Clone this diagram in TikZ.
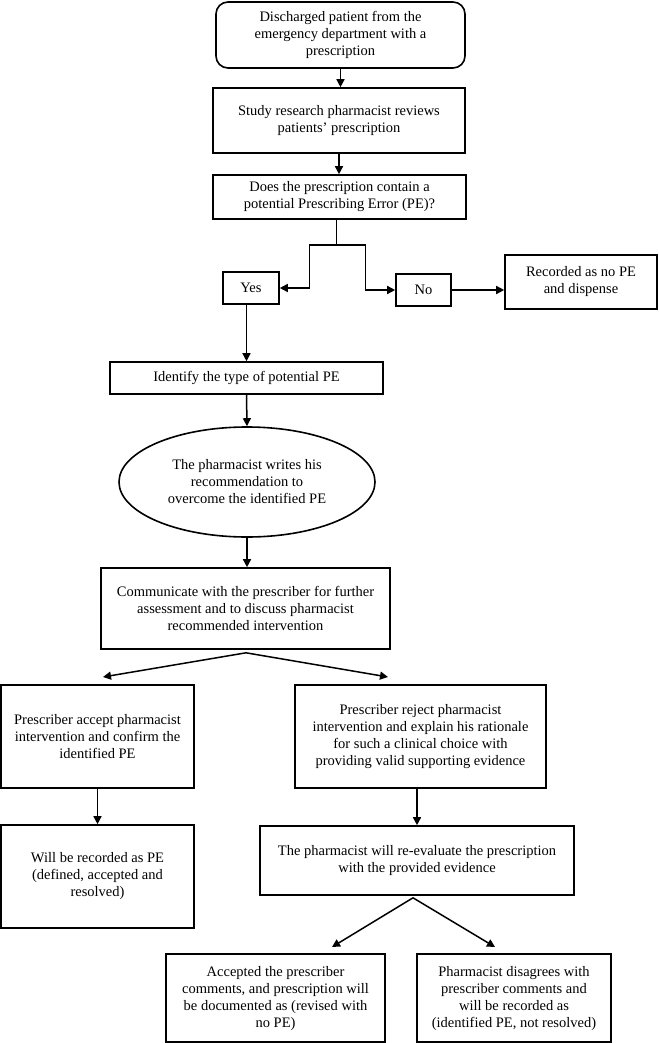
\documentclass[tikz,border=0pt]{standalone}
\usepackage{fontspec}
\setmainfont{Liberation Serif}
\usetikzlibrary{arrows.meta,shapes.geometric,calc}
\begin{document}
\begin{tikzpicture}[x=1pt,y=-1pt,
  box/.style={draw,line width=1.6pt,align=center,inner sep=2pt,
    font=\fontsize{14.5}{17}\selectfont},
  arr/.style={line width=1.5pt,-{Triangle[length=8pt,width=8pt]}},
  ln/.style={line width=1.5pt}]
\useasboundingbox (0,0) rectangle (658,1043);
% nodes
\node[box,rounded corners=12pt,minimum width=249pt,minimum height=66pt] (start) at (340.5,35)
  {Discharged patient from the\\emergency department with a\\prescription};
\node[box,minimum width=252pt,minimum height=65pt] (review) at (339,120.5)
  {Study research pharmacist reviews\\patients’ prescription};
\node[box,minimum width=253pt,minimum height=44pt] (quest) at (339.5,197)
  {Does the prescription contain a\\potential Prescribing Error (PE)?};
\node[box,minimum width=56pt,minimum height=32pt] (yes) at (251,288) {Yes};
\node[box,minimum width=55pt,minimum height=32pt] (no) at (423.5,290) {No};
\node[box,minimum width=152pt,minimum height=54pt] (nope) at (581,282)
  {Recorded as no PE\\and dispense};
\node[box,minimum width=273pt,minimum height=32pt] (ident) at (246.5,378)
  {Identify the type of potential PE};
\node[box,ellipse,minimum width=256pt,minimum height=110pt] (writes) at (247,482)
  {The pharmacist writes his\\recommendation to\\overcome the identified PE};
\node[box,minimum width=289pt,minimum height=81pt] (comm) at (245.5,608.5)
  {Communicate with the prescriber for further\\assessment and to discuss pharmacist\\recommended intervention};
\node[box,minimum width=193pt,minimum height=103pt] (accept) at (97.5,736.5)
  {Prescriber accept pharmacist\\intervention and confirm the\\identified PE};
\node[box,minimum width=251pt,minimum height=103pt] (reject) at (420.5,736.5)
  {Prescriber reject pharmacist\\intervention and explain his rationale\\for such a clinical choice with\\providing valid supporting evidence};
\node[box,minimum width=193pt,minimum height=103pt] (willbe) at (97.5,876.5)
  {Will be recorded as PE\\(defined, accepted and\\resolved)};
\node[box,minimum width=314pt,minimum height=69pt] (reeval) at (417,860.5)
  {The pharmacist will re-evaluate the prescription\\with the provided evidence};
\node[box,minimum width=219pt,minimum height=88pt] (revised) at (275.5,998)
  {Accepted the prescriber\\comments, and prescription will\\be documented as (revised with\\no PE)};
\node[box,minimum width=194pt,minimum height=88pt] (disagree) at (514,998)
  {Pharmacist disagrees with\\prescriber comments and\\will be recorded as\\(identified PE, not resolved)};
% connectors
\draw[arr] (start) -- (start.south |- review.north);
\draw[arr] (review) -- (review.south |- quest.north);
\coordinate (split) at ($(quest.south)+(-3,25)$);
\draw[ln] (split |- quest.south) -- (split);
\draw[arr] (split) -- ++(-27,0) |- (yes.east);
\draw[arr] (split) -- ++(29,0) |- (no.west);
\draw[arr] (no.east) -- (no.east -| nope.west);
\draw[arr] (ident.north |- yes.south) -- (ident.north);
\draw[arr] (ident.south) -- (writes.north);
\draw[arr] (writes.south) -- (writes.south |- comm.north);
\coordinate (ap1) at ($(comm.south)+(0.5,3)$);
\coordinate (tl1) at (103,677);
\coordinate (tr1) at (388,677);
\draw[arr] (ap1) -- (tl1);
\draw[arr] (ap1) -- (tr1);
\draw[arr] (accept.south) -- (willbe.north);
\draw[arr] (reeval.north |- reject.south) -- (reeval.north);
\coordinate (ap2) at ($(reeval.south)+(-4,2)$);
\coordinate (tl2) at (332,947);
\coordinate (tr2) at (495,947);
\draw[arr] (ap2) -- (tl2);
\draw[arr] (ap2) -- (tr2);
\end{tikzpicture}
\end{document}
